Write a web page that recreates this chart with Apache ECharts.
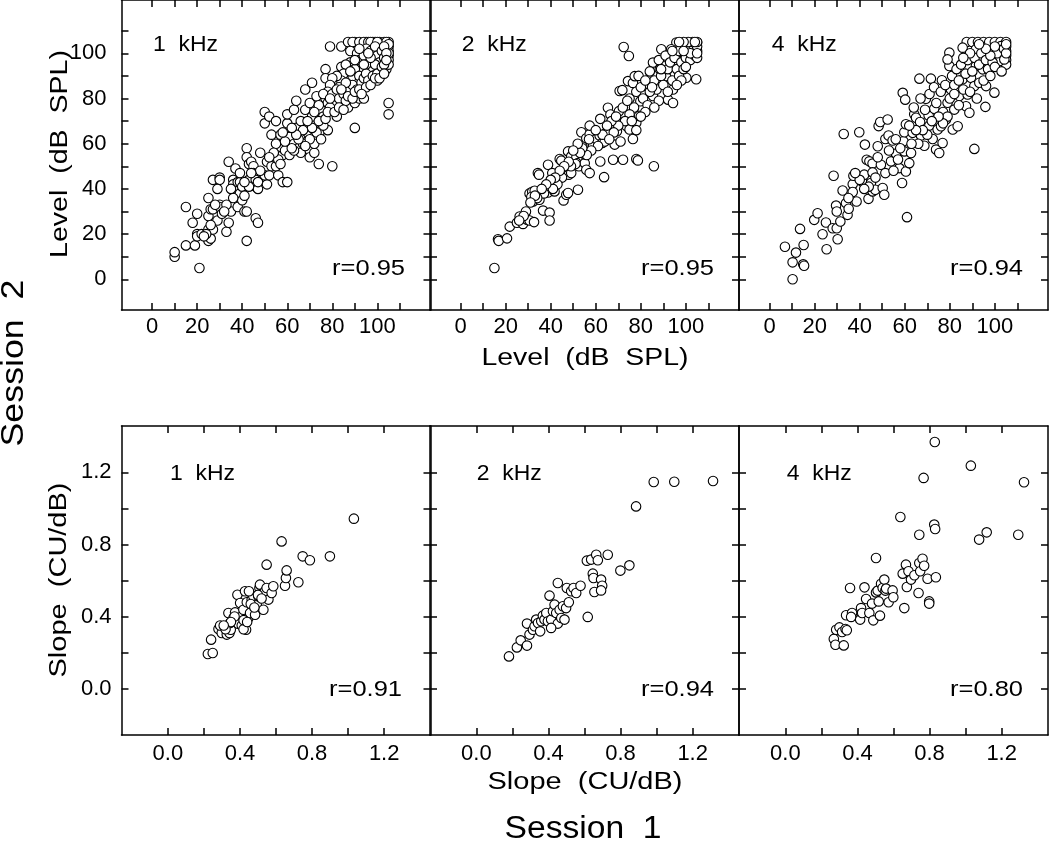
<!DOCTYPE html>
<html><head><meta charset="utf-8">
<script src="https://cdn.jsdelivr.net/npm/echarts@6/dist/echarts.min.js"></script>
<style>html,body{margin:0;padding:0;background:#fff}#c{width:1050px;height:841px}</style>
</head><body><div id="c"></div>
<script>
// ---------- data ----------
const levelTicks = [0,10,20,30,40,50,60,70,80,90,100,110];
const levelLabels = [0,20,40,60,80,100];
const slopeTicks = [0,0.2,0.4,0.6,0.8,1.0,1.2];
const slopeLabels = [0,0.4,0.8,1.2];
const panelNames = ['1  kHz','2  kHz','4  kHz'];
const rLevel = ['r=0.95','r=0.95','r=0.94'];
const rSlope = ['r=0.91','r=0.94','r=0.80'];

const lvl1k = [[10,10],[10,12],[21,5],[15,15],[19,15],[15,32],[18,25],[20,29],[20,20],[20,19],[22,20],[25,17],[26,18],[25,22],[25,28],[25,36],[26,31],[27,31],[27,22],[27,44],[30,45],[30,44],[29,40],[30,33],[30,32],[29,26],[31,29],[33,21],[34,52],[34,25],[35,30],[36,44],[36,42],[37,40],[37,49],[38,43],[38,32],[39,38],[39,43],[39,47],[40,41],[41,30],[40,35],[41,37],[42,58],[42,54],[42,17],[42,30],[43,51],[43,44],[44,52],[45,50],[45,47],[46,44],[46,41],[46,27],[47,25],[47,40],[47,43],[48,56],[51,42],[50,46],[51,52],[50,74],[50,69],[52,72],[53,50],[52,46],[53,64],[55,55],[55,70],[55,50],[56,46],[55,60],[57,64],[58,55],[58,43],[60,43],[59,57],[60,69],[61,63],[60,73],[61,55],[63,60],[63,75],[64,79],[64,67],[65,58],[66,56],[66,64],[66,70],[67,60],[69,65],[68,75],[70,57],[68,84],[70,54],[71,87],[70,78],[71,72],[72,63],[72,56],[72,60],[74,51],[73,81],[75,66],[75,75],[76,72],[77,93],[77,89],[78,66],[79,103],[79,84],[80,77],[80,50],[81,88],[82,72],[82,80],[84,94],[84,103],[84,78],[85,86],[86,90],[87,76],[87,105],[88,96],[90,67],[90,105],[90,78],[91,88],[92,80],[93,100],[94,80],[95,105],[96,97],[97,91],[98,105],[105,78],[105,73],[104,93],[100,88],
[89,105],[92,105],[94,105],[96,105],[99,105],[101,105],[103,105],[105,105],[104,105],[97,105],[100,105],[105,103],[105,101],[105,99],[105,97],[105,95],[105,100],[105,104],
[88,101],[91,100],[92,97],[94,99],[95,102],[97,101],[98,97],[99,103],[100,99],[101,96],[102,101],[103,98],[103,103],[101,92],[99,93],[97,94],[95,95],[93,92],[90,93],[89,90],[87,93],[86,95],[85,91],[84,88],[83,85],[82,90],[80,89],[79,86],[78,83],[77,80],[76,82],[78,78],[80,82],[81,78],[82,84],[83,80],[85,82],[86,79],[88,84],[89,86],[91,84],[92,90],[93,87],[94,89],[95,91],[96,88],[98,90],[99,95],[100,91],[102,94],[103,95],[104,100],[104,97],[97,98],[96,100],[92,102],[94,95],[90,97],[88,92],[86,87],[84,84],[79,76],[76,68],[74,70],[73,65],[71,67],[70,62],[69,70],[68,59],[67,66],[65,62],[64,64],[63,57],[62,67],[62,58],[74,77],[72,74],[75,62],[77,71],[78,74],[79,80],[81,74],[83,76],[85,75],[87,81],[89,80],[90,83],[92,84],[95,85],[93,82],[97,86],[99,89],[101,89],[103,91],[56,53],[57,51],[59,61],[58,65],[54,56],[52,54],[48,48],[44,47],[43,41],[41,43],[36,36],[33,33],[32,30],[28,33],[26,24],[24,20],[23,19],[35,40]];

const lvl2k = [[15,5],[16.6,17.7],[16.9,17],[20.6,18.1],[21.8,23.3],[25,25],[26.2,27.8],[27.7,24.5],[29.5,26.3],[30.6,26],[32.6,25.3],[30.6,38],[31.8,38.7],[32.9,39.2],[31.4,36.4],[32.2,34.4],[34.3,47],[34.8,46.3],[35,35.2],[36.6,30.4],[38.8,50.7],[39.5,29.5],[39.5,26],[38.8,38.4],[39.8,43.3],[40.7,47],[41.7,38.9],[42.5,42.9],[44,53.2],[44.7,52.5],[45.7,34.9],[46.9,37.4],[47.7,38.2],[46.9,48.5],[48,46.3],[49.1,47],[47.7,56.6],[49.1,54.4],[51.4,54],[52.1,51.4],[52.5,50],[54.3,54.4],[55.1,51.4],[55.8,48.5],[57.3,47],[52.1,39.6],[53.6,65.1],[54,59],[55.1,55.2],[55.8,62.4],[57.3,64.2],[57.3,68],[58.8,59],[60.2,62.1],[61.7,63.6],[62,52.1],[63.7,45.2],[62.9,60.3],[64.7,64.8],[65.4,75.9],[66.5,72.9],[67.7,52.9],[68.4,59.6],[69.4,65.5],[70.3,74.4],[70.6,83.3],[71.8,83.7],[72.1,52.9],[72.4,102.8],[74.7,98.8],[73.6,67.8],[75,66.3],[74.3,87.7],[76.5,86.9],[77.3,89.9],[78,53.2],[78.7,52.6],[76.5,62.1],[78,69.3],[79.2,72.3],[79.8,78.8],[82.4,85.5],[83.9,88.5],[85.4,81.1],[85.8,50],[85.4,95.9],[88.4,92.9],[89.8,94.4],[91.3,89.9],[92.1,79.5],[94.3,78],[94.3,84],[95,91.4],[96.5,96.6],[98.7,100.3],[100.2,103.2],[101.7,104],[103.2,101.8],[104.6,102.5],[105,104.8],[104.6,88.5],[100.2,89.2],[95.8,104.8],[93.5,101.8],[89.1,101.8],
[75,80],[78,83],[80,85],[81,80],[83,77],[84,92],[86,88],[87,84],[88,97],[89,90],[90,86],[91,99],[92,93],[93,96],[94,88],[95,98],[96,93],[97,90],[97,101],[98,96],[99,93],[100,98],[101,101],[102,97],[103,104],[104,99],[105,101],[105,98],[105,103],[105,105],[103,105],[101,105],[99,105],[97,105],[102,100],[100,94],[98,88],[96,86],[92,83],[88,79],[86,76],[84,83],[82,74],[80,72],[77,76],[75,73],[73,70],[72,76],[70,68],[68,65],[67,70],[65,68],[64,61],[63,64],[61,59],[60,66],[58,57],[57,62],[56,55],[54,58],[53,56],[52,60],[51,51],[50,57],[49,50],[48,52],[46,50],[45,45],[44,48],[43,42],[42,45],[41,40],[40,44],[38,42],[37,38],[36,40],[34,36],[33,37],[31,34],[29,30],[28,28],[26,26],[74,79],[79,90],[82,88],[85,85],[89,93],[94,101],[99,101],[104,105],[105,100],[62,71],[66,62],[69,72],[71,61],[76,70],[78,66]];

const lvl4k = [[6.8,14.4],[10.2,7.5],[10.2,0],[11.7,11.8],[13.5,22.3],[15.1,15.2],[14.9,6.6],[15.3,6],[19.8,26.3],[21.3,29.2],[23.5,19.9],[25.3,13.3],[25,25.1],[28.4,45.8],[28,22.6],[29.5,32.6],[29.8,30],[29.8,22.6],[30.2,17.7],[31.4,25.6],[32.4,39.3],[32.9,64.3],[33.9,33.7],[34.6,28.5],[35.1,31.2],[36.9,42.1],[37.2,45.8],[36.9,38.6],[38.6,34.4],[39.8,65.1],[41,43.3],[42,46.3],[42.3,59.6],[43.1,52.9],[44.3,52.2],[45,42.6],[45.7,51.2],[45.7,47.3],[43.9,35.6],[45.7,38.9],[46.9,39.6],[48,58.9],[48.4,67.8],[49.1,69.6],[49.4,50.7],[50.2,40.4],[50.9,37.4],[51.4,47],[51.4,62.1],[52.4,70.7],[52.8,63.6],[54.6,61.4],[53.9,52.2],[56.1,55.6],[57.6,49.2],[58.8,42.6],[59.1,82.5],[60.2,79.5],[59.4,61.1],[59.8,65.1],[60.5,68.6],[59.8,56.6],[60.5,47.7],[62,51.4],[62.8,55.9],[63.5,64.8],[64.2,73],[65,71.5],[61,27.5],[66.5,88.8],[66.8,69.6],[67.2,63.6],[68.7,59.1],[69.4,79.9],[70.6,72.5],[70.9,68],[71.6,88.8],[72.4,62.1],[73.1,75.5],[73.9,57.4],[74.6,66.3],[75.3,55.9],[76.1,67.7],[76.8,60.3],[76.5,88.1],[78.3,70.7],[79,78.1],[80.5,84],[79.8,94.4],[81.3,66.3],[82,75.1],[83.5,67.7],[84.2,81.1],[85.7,88.5],[87.2,76.6],[87.9,81.8],[88.7,73.7],[89.4,89.2],[90.9,85.5],[91.6,94.4],[93.1,87],[94.6,92.9],[96.1,85.5],[95.8,76.3],[90.9,57.7],[99.8,82.6],
[87.5,105],[90,105],[92.5,105],[95,105],[97.5,105],[100,105],[102.5,105],[105,105],[105,103],[105,101],[105,99],[105,97],[105,95],[79.8,100.3],[79,97.3],[85.7,102.5],[91.6,101.8],[97.5,101],[100.5,98.8],[102,96.6],[103.5,100.3],[104.2,97.3],[102.7,103.2],
[64,76],[67,80],[69,75],[71,82],[73,85],[74,78],[76,83],[77,74],[78,86],[80,80],[81,90],[82,86],[83,93],[84,77],[85,95],[86,84],[87,91],[88,97],[89,83],[90,92],[91,98],[92,80],[93,95],[94,100],[95,88],[96,97],[97,93],[98,90],[99,96],[100,94],[101,100],[103,92],[104,102],[105,100],[105,104],[100,103],[98,99],[96,102],[93,104],[89,100],[86,98],[84,88],[82,82],[79,72],[77,69],[75,72],[72,70],[70,64],[68,66],[66,60],[65,66],[63,60],[62,68],[58,58],[57,53],[56,62],[55,48],[53,57],[48,54],[47,45],[44,41],[42,40],[40,44],[38,47],[35,36]];

const slp1k = [[0.222,0.192],[0.249,0.198],[0.24,0.272],[0.281,0.331],[0.299,0.309],[0.29,0.35],[0.327,0.3],[0.342,0.309],[0.349,0.327],[0.336,0.42],[0.345,0.364],[0.364,0.392],[0.373,0.423],[0.386,0.521],[0.391,0.374],[0.401,0.475],[0.41,0.401],[0.419,0.438],[0.428,0.54],[0.434,0.327],[0.438,0.479],[0.447,0.392],[0.456,0.42],[0.465,0.494],[0.474,0.512],[0.484,0.41],[0.493,0.466],[0.502,0.512],[0.508,0.558],[0.511,0.577],[0.53,0.438],[0.539,0.54],[0.548,0.558],[0.558,0.494],[0.576,0.531],[0.585,0.568],[0.39,0.36],[0.41,0.35],[0.42,0.33],[0.42,0.38],[0.44,0.37],[0.37,0.40],[0.35,0.37],[0.32,0.33],[0.31,0.35],[0.46,0.47],[0.48,0.45],[0.50,0.52],[0.52,0.50],[0.45,0.54],[0.548,0.688],[0.631,0.817],[0.65,0.571],[0.655,0.614],[0.659,0.656],[0.724,0.59],[0.748,0.734],[0.788,0.712],[0.899,0.734],[1.032,0.943]];

const slp2k = [[0.181,0.179],[0.225,0.229],[0.246,0.268],[0.281,0.239],[0.281,0.361],[0.295,0.3],[0.314,0.327],[0.323,0.346],[0.332,0.383],[0.342,0.364],[0.354,0.318],[0.36,0.374],[0.369,0.405],[0.378,0.383],[0.388,0.42],[0.397,0.374],[0.406,0.516],[0.415,0.383],[0.425,0.429],[0.434,0.466],[0.443,0.42],[0.452,0.361],[0.462,0.438],[0.471,0.392],[0.48,0.457],[0.489,0.383],[0.498,0.447],[0.513,0.479],[0.502,0.558],[0.526,0.54],[0.539,0.558],[0.554,0.531],[0.578,0.571],[0.452,0.586],[0.415,0.337],[0.618,0.398],[0.613,0.71],[0.637,0.716],[0.665,0.743],[0.674,0.712],[0.729,0.743],[0.646,0.638],[0.65,0.614],[0.655,0.536],[0.692,0.605],[0.698,0.571],[0.692,0.545],[0.799,0.655],[0.849,0.684],[0.886,1.011],[0.984,1.146],[1.098,1.148],[1.313,1.152]];

const slp4k = [[0.269,0.276],[0.278,0.244],[0.282,0.327],[0.3,0.34],[0.315,0.314],[0.324,0.24],[0.334,0.331],[0.341,0.324],[0.337,0.407],[0.359,0.558],[0.37,0.42],[0.365,0.398],[0.415,0.383],[0.42,0.447],[0.426,0.42],[0.439,0.562],[0.448,0.497],[0.466,0.42],[0.481,0.472],[0.488,0.379],[0.503,0.534],[0.503,0.725],[0.512,0.544],[0.518,0.484],[0.525,0.405],[0.531,0.582],[0.54,0.558],[0.549,0.605],[0.555,0.544],[0.559,0.555],[0.573,0.479],[0.595,0.545],[0.599,0.507],[0.638,0.952],[0.651,0.638],[0.66,0.447],[0.669,0.688],[0.674,0.564],[0.683,0.651],[0.697,0.605],[0.716,0.629],[0.739,0.531],[0.743,0.854],[0.743,0.697],[0.748,0.651],[0.761,0.721],[0.77,0.682],[0.789,0.61],[0.767,1.169],[0.798,0.484],[0.798,0.472],[0.826,0.91],[0.831,0.886],[0.829,1.368],[0.835,0.618],[1.029,1.237],[1.075,0.827],[1.117,0.867],[1.292,0.854],[1.324,1.145]];

// ---------- layout ----------
const FONT = 'Liberation Sans';
const colLeft = [121.5, 430, 739];
const panelW = 309;
const rowTop = [0, 426];
const rowH = [310, 309];
const rowRange = [[-13.6, 123.6], [-0.257, 1.457]];
const rowTicks = [levelTicks, slopeTicks];
const rowLabels = [levelLabels, slopeLabels];
const rowFmt = [v => String(Math.round(v)), v => v.toFixed(1)];
const rowData = [[lvl1k, lvl2k, lvl4k], [slp1k, slp2k, slp4k]];
const LINE = {color:'#000', width:1.5};

const grids = [], xAxes = [], yAxes = [], series = [];
for (let r = 0; r < 2; r++) {
  for (let c = 0; c < 3; c++) {
    const gi = grids.length;
    grids.push({left: colLeft[c], top: rowTop[r], width: panelW, height: rowH[r], containLabel:false});
    const base = {
      type:'value', gridIndex: gi, min: rowRange[r][0], max: rowRange[r][1],
      axisLine:{show:true, onZero:false, lineStyle: LINE},
      axisTick:{show:true, inside:true, length:7, customValues: rowTicks[r], lineStyle: LINE},
      splitLine:{show:false}
    };
    const lab = (show, margin) => ({show, customValues: rowLabels[r], formatter: rowFmt[r],
      margin, fontFamily: FONT, fontSize: 22, color:'#000'});
    xAxes.push(Object.assign({}, base, {position:'bottom', axisLabel: lab(true, r===0?6:8)}));
    xAxes.push(Object.assign({}, base, {position:'top', axisLabel:{show:false}}));
    yAxes.push(Object.assign({}, base, {position:'left', axisLabel: lab(c===0, r===0?15:10)}));
    yAxes.push(Object.assign({}, base, {position:'right', axisLabel:{show:false}}));
    series.push({
      type:'scatter', xAxisIndex: gi*2, yAxisIndex: gi*2, data: rowData[r][c],
      symbol:'circle', symbolSize: 9.5, silent:true,
      itemStyle:{color:'#fff', borderColor:'#000', borderWidth:1.1, opacity:1}
    });
  }
}

// text helper with measured horizontal stretch
const mctx = document.createElement('canvas').getContext('2d');
function txt(text, size, x, y, align, targetW, rot) {
  mctx.font = size + 'px "' + FONT + '"';
  const w = mctx.measureText(text).width;
  const s = targetW ? targetW / w : 1;
  return {type:'text', x, y, rotation: rot || 0, scaleX: s, silent:true, z:100,
    style:{text, fontFamily: FONT, fontSize: size, fill:'#000', align, verticalAlign:'middle'}};
}
const graphics = [];
const kY = [45, 474], rY = [269, 690];
const kLeft = [[153, 461.7, 771.7], [170, 476.7, 786.7]];
const rRight = [[405, 714, 1023], [402, 714, 1023]];
for (let r = 0; r < 2; r++) for (let c = 0; c < 3; c++) {
  graphics.push(txt(panelNames[c], 22, kLeft[r][c], kY[r], 'left', 65));
  graphics.push(txt((r===0?rLevel:rSlope)[c], 22, rRight[r][c], rY[r], 'right', 73));
}
graphics.push(txt('Level  (dB  SPL)', 23, 61, 154, 'center', 208, Math.PI/2));
graphics.push(txt('Level  (dB  SPL)', 23, 585, 359, 'center', 207));
graphics.push(txt('Slope  (CU/dB)', 23, 60, 580, 'center', 195, Math.PI/2));
graphics.push(txt('Slope  (CU/dB)', 23, 585, 783, 'center', 195));
graphics.push(txt('Session  1', 31, 583, 829, 'center', 157));
graphics.push(txt('Session  2', 31, 14, 363, 'center', 167, Math.PI/2));

const chart = echarts.init(document.getElementById('c'), null, {renderer:'canvas'});
chart.setOption({
  animation:false, backgroundColor:'#fff',
  grid: grids, xAxis: xAxes, yAxis: yAxes, series, graphic: graphics
});
</script></body></html>
